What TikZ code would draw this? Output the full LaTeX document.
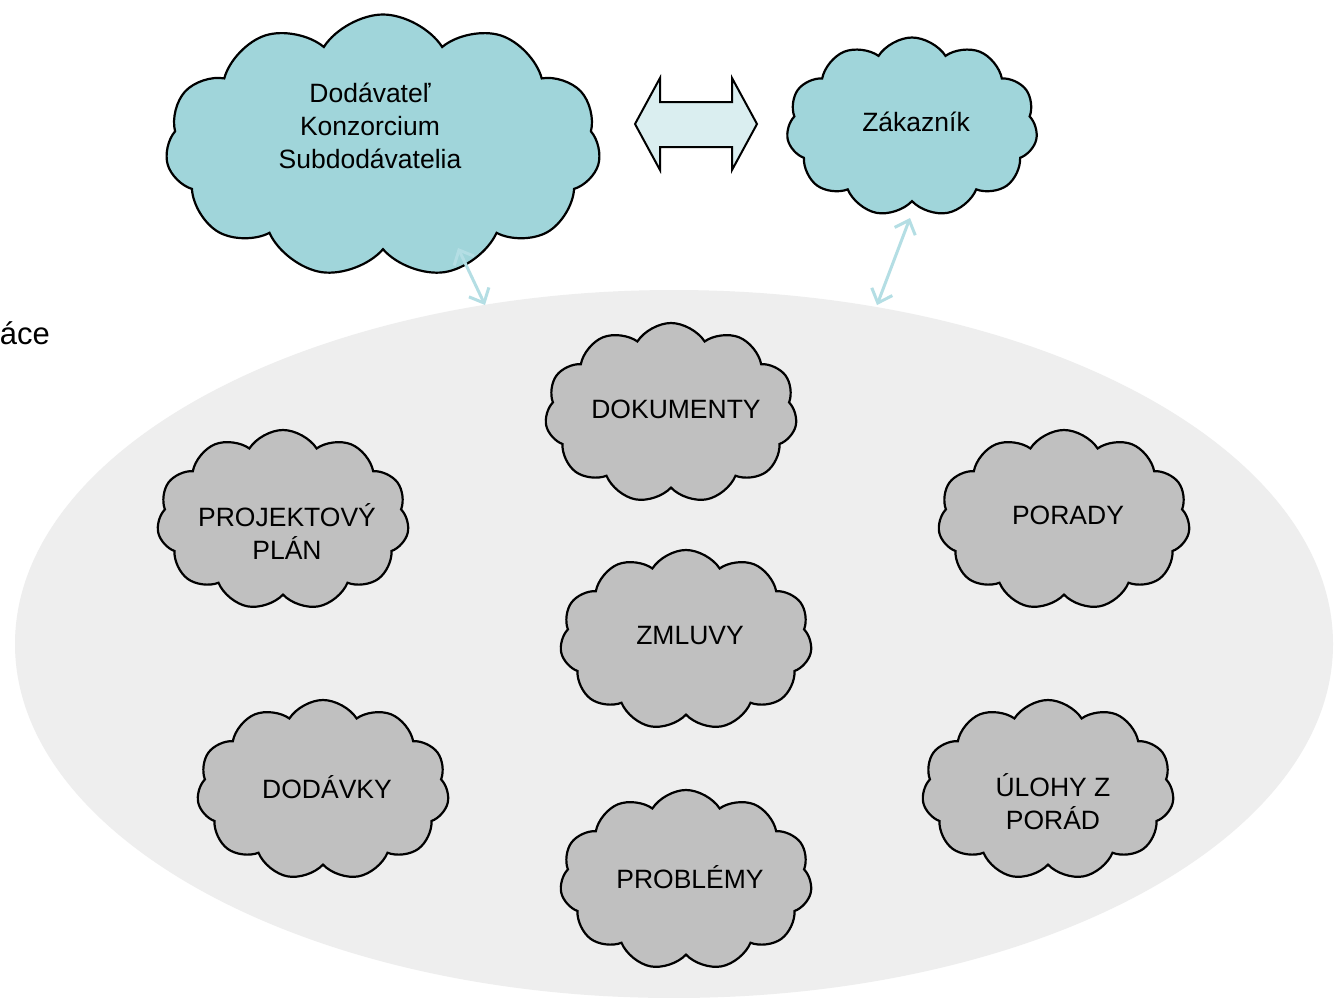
\documentclass[tikz,border=0pt]{standalone}
\usepackage{fontspec}
\setmainfont{Liberation Sans}
\usetikzlibrary{shapes.symbols,shapes.geometric,arrows.meta}
\definecolor{teal1}{RGB}{160,213,218}
\definecolor{arrowfill}{RGB}{218,238,240}
\definecolor{linkc}{RGB}{180,222,228}
\definecolor{bggray}{RGB}{238,238,238}
\definecolor{cloudgray}{RGB}{192,192,192}
\tikzset{
  cloudbox/.style={cloud, cloud puffs=11, cloud puff arc=115, cloud ignores aspect, draw=black, line width=2.2pt, inner sep=0pt},
  graycloud/.style={cloudbox, fill=cloudgray, minimum width=252pt, minimum height=180pt},
  tealcloud/.style={cloudbox, fill=teal1},
  txt/.style={font=\fontsize{26.5}{33}\selectfont, align=center, text=black},
  link/.style={draw=linkc, line width=3pt, {Straight Barb[length=12pt,width=22pt]}-{Straight Barb[length=12pt,width=22pt]}}
}
\begin{document}
\begin{tikzpicture}[x=1pt,y=-1pt]
\useasboundingbox (0,0) rectangle (1335,997);
\fill[white] (0,0) rectangle (1335,997);
% background ellipse
\node[ellipse, fill=bggray, minimum width=1318pt, minimum height=708pt, inner sep=0pt] (bg) at (674,644) {};
\node[txt, anchor=east, font=\fontsize{31}{33}\selectfont, inner sep=0pt] (side) at (50,333) {áce};
% top clouds
\node[tealcloud, minimum width=435pt, minimum height=263pt] (sup) at (383,146) {};
\node[txt] (suptext) at (370,126) {Dodávateľ\\Konzorcium\\Subdodávatelia};
\node[tealcloud, minimum width=251pt, minimum height=179pt] (cust) at (912,127) {};
\node[txt] (custtext) at (916,122) {Zákazník};
% double arrow
\draw[fill=arrowfill, line width=2pt, line join=miter]
  (635,124) -- (660,78) -- (660,102) -- (732,102) -- (732,78) -- (757,124)
  -- (732,170) -- (732,147) -- (660,147) -- (660,170) -- cycle;
% links
\coordinate (a1) at (458,248);
\coordinate (a2) at (485,305);
\coordinate (b1) at (910,218);
\coordinate (b2) at (877,305);
\draw[link] (a1) -- (a2);
\draw[link] (b1) -- (b2);
% gray clouds
\node[graycloud] (dok) at (671,413) {};
\node[txt] (doktext) at (676,409) {DOKUMENTY};
\node[graycloud] (plan) at (283,520) {};
\node[txt] (plantext) at (287,531) {PROJEKTOVÝ\\PLÁN};
\node[graycloud] (por) at (1064,520) {};
\node[txt] (portext) at (1068,515) {PORADY};
\node[graycloud] (zml) at (686,640) {};
\node[txt] (zmltext) at (690,635) {ZMLUVY};
\node[graycloud] (dod) at (323,790) {};
\node[txt] (dodtext) at (327,787) {DODÁVKY};
\node[graycloud] (ulo) at (1048,790) {};
\node[txt] (ulotext) at (1053,802) {ÚLOHY Z\\PORÁD};
\node[graycloud] (prob) at (686,880) {};
\node[txt] (probtext) at (690,877) {PROBLÉMY};
\end{tikzpicture}
\end{document}
